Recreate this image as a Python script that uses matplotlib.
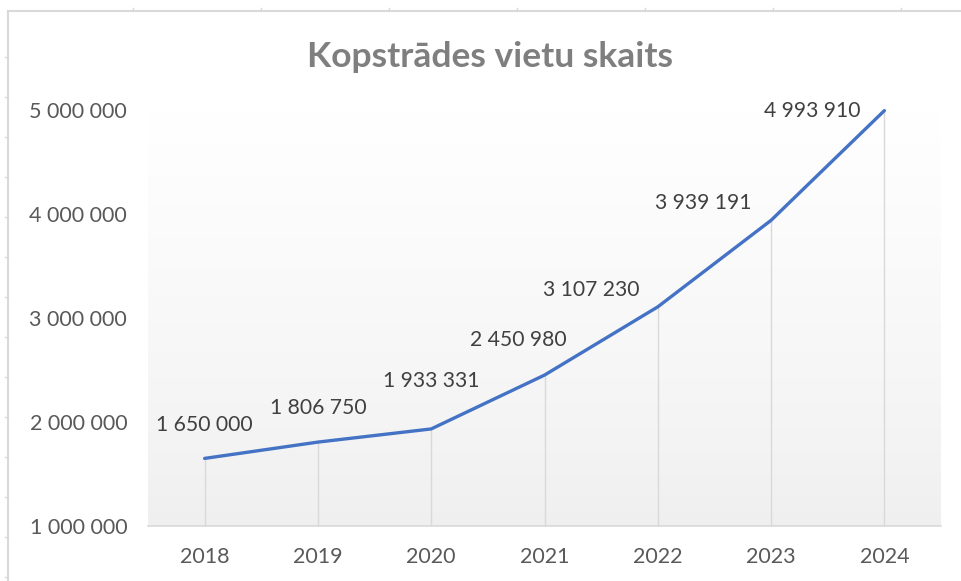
import matplotlib
matplotlib.use("Agg")
import matplotlib.pyplot as plt
import numpy as np
from matplotlib.lines import Line2D

years = ["2018", "2019", "2020", "2021", "2022", "2023", "2024"]
values = [1650000, 1806750, 1933331, 2450980, 3107230, 3939191, 4993910]
y_ticks = [1000000, 2000000, 3000000, 4000000, 5000000]
y_tick_labels = ["1 000 000", "2 000 000", "3 000 000", "4 000 000", "5 000 000"]
title = "Kopstrādes vietu skaits"

# label offsets in pixels (style only)
label_offsets = [(0, 33), (0, 34), (0, 48), (-26, 35), (-67, 17), (-68, 17), (-72, 0)]

def fmt(v):
    return f"{v:,}".replace(",", " ")

plt.rcParams['font.family'] = ['Lato', 'DejaVu Sans']

W, H = 961, 581
fig = plt.figure(figsize=(W / 100, H / 100), dpi=100)
fig.patch.set_facecolor("white")

ax = fig.add_axes([148 / W, (H - 526) / H, (941 - 148) / W, (526 - 110) / H])
ax.set_facecolor("none")

x = np.arange(len(years))
ax.set_xlim(-0.5, len(years) - 0.5)
ax.set_ylim(y_ticks[0], y_ticks[-1])

# gradient background
grad = np.linspace(0, 1, 256).reshape(-1, 1) ** 0.8
ax.imshow(grad, cmap=matplotlib.colors.LinearSegmentedColormap.from_list(
    "g", ["#efefef", "#ffffff"]), aspect="auto",
    extent=[-0.5, len(years) - 0.5, y_ticks[0], y_ticks[-1]], origin="lower",
    zorder=0)

# drop lines
ax.vlines(x, y_ticks[0], values, colors="#d9d9d9", lw=1.0, zorder=1)

ax.plot(x, values, color="#4472c4", lw=2.4, zorder=3, clip_on=False,
        solid_capstyle="round", solid_joinstyle="round")

for xi, v, (dx, dy) in zip(x, values, label_offsets):
    ax.annotate(fmt(v), (xi, v), xytext=(dx * 0.72, dy * 0.72),
                textcoords="offset points", ha="center", va="center",
                fontsize=15.2, color="#404040", zorder=4)

ax.set_xticks(x)
ax.set_xticklabels(years)
ax.set_yticks(y_ticks)
ax.set_yticklabels(y_tick_labels)
ax.tick_params(axis="both", length=0, labelsize=15.5, labelcolor="#595959")
ax.tick_params(axis="y", pad=15)
ax.tick_params(axis="x", pad=15)
for s in ["top", "right", "left"]:
    ax.spines[s].set_visible(False)
ax.spines["bottom"].set_color("#d9d9d9")
ax.spines["bottom"].set_linewidth(1.2)
ax.spines["bottom"].set_zorder(2)

fig.text(490 / W, 1 - 57 / H, title, ha="center", va="center",
         fontsize=25.5, fontweight="bold", color="#7f7f7f")

# sheet border lines
bc = "#d9d9d9"
fig.add_artist(Line2D([8 / W, 8 / W], [0, 1 - 11 / H], color=bc, lw=1.5))
fig.add_artist(Line2D([8 / W, 1], [1 - 11 / H, 1 - 11 / H], color=bc, lw=1.5))
for yy in range(57, 581, 40):
    fig.add_artist(Line2D([5 / W, 8 / W], [1 - yy / H, 1 - yy / H], color=bc, lw=1))
for xx in range(133, 961, 128):
    fig.add_artist(Line2D([xx / W, xx / W], [1 - 11 / H, 1 - 8 / H], color=bc, lw=1))

fig.savefig("out.png", dpi=100, facecolor="white")
